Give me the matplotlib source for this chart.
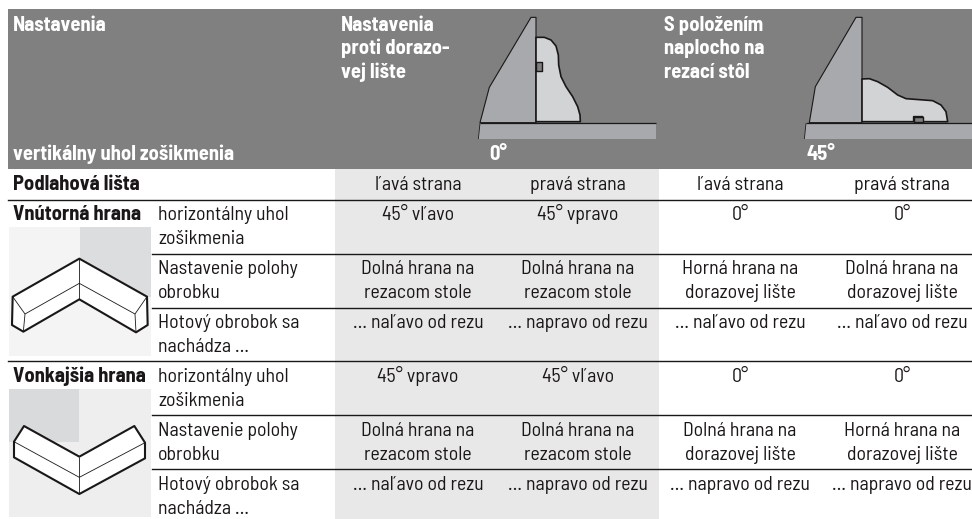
import matplotlib
matplotlib.use('Agg')
import matplotlib.pyplot as plt
from matplotlib import font_manager as fm
from matplotlib.patches import Polygon, Rectangle

# Semi condensed face if there is one, otherwise a smaller Roboto so the cells still fit
installed = {f.name for f in fm.fontManager.ttflist}
if 'Barlow Semi Condensed' in installed:
    plt.rcParams['font.family'] = ['Barlow Semi Condensed', 'DejaVu Sans']
    FS = 14.2
    FS_BOLD = 14.8
else:
    plt.rcParams['font.family'] = ['Roboto', 'DejaVu Sans']
    FS = 11.5
    FS_BOLD = 11.5

# Table content
head_left = ['Nastavenia', 'vertikálny uhol zošikmenia']
head_mid = ['Nastavenia', 'proti dorazo-', 'vej lište']
head_right = ['S položením', 'naplocho na', 'rezací stôl']
angles = ['0°', '45°']
sides = ['ľavá strana', 'pravá strana', 'ľavá strana', 'pravá strana']
row_labels = ['horizontálny uhol\nzošikmenia', 'Nastavenie polohy\nobrobku', 'Hotový obrobok sa\nnachádza …']

inner_name = 'Vnútorná hrana'
inner_rows = [
    ['45° vľavo', '45° vpravo', '0°', '0°'],
    ['Dolná hrana na\nrezacom stole', 'Dolná hrana na\nrezacom stole', 'Horná hrana na\ndorazovej lište', 'Dolná hrana na\ndorazovej lište'],
    ['… naľavo od rezu', '… napravo od rezu', '… naľavo od rezu', '… naľavo od rezu'],
]
outer_name = 'Vonkajšia hrana'
outer_rows = [
    ['45° vpravo', '45° vľavo', '0°', '0°'],
    ['Dolná hrana na\nrezacom stole', 'Dolná hrana na\nrezacom stole', 'Dolná hrana na\ndorazovej lište', 'Horná hrana na\ndorazovej lište'],
    ['… naľavo od rezu', '… napravo od rezu', '… napravo od rezu', '… napravo od rezu'],
]

col_x = [418, 578, 740, 902]
INK = '#1a1718'
HEAD = '#808080'
BAND = '#e8e8e8'
FENCE = '#a7a9ac'
PIECE = '#d1d3d4'

fig = plt.figure(figsize=(9.72, 5.19), dpi=100, facecolor='white')
ax = fig.add_axes([0, 0, 1, 1])
ax.set_xlim(0, 972)
ax.set_ylim(519, 0)
ax.axis('off')


def txt(x, y, s, bold=False, color=INK, ha='left'):
    ax.text(x, y, s, fontsize=FS_BOLD if bold else FS, fontweight='bold' if bold else 'normal', color=color,
            ha=ha, va='baseline', zorder=6)


def block(x, y, s, ha='left'):
    # two line cells, 24 px apart
    for i, part in enumerate(s.split('\n')):
        txt(x, y + i * 24, part, ha=ha)


def poly(pts, fc, ec=INK, lw=1.0, z=3):
    ax.add_patch(Polygon(pts, closed=True, fc=fc, ec=ec, lw=lw, zorder=z, joinstyle='round'))


def line(pts, lw=1.0, z=4):
    ax.plot([p[0] for p in pts], [p[1] for p in pts], color=INK, lw=lw, zorder=z, solid_capstyle='butt')


# sketch outlines were traced on 3x crops, these bring them back to image pixels
def zh(u, v):
    return (486 + u / 3, v / 3)


def zi(u, v):
    return (u / 3, 170 + v / 3)


def zo(u, v):
    return (u / 3, 340 + v / 3)


# backgrounds
ax.add_patch(Rectangle((8, 9), 964, 160, fc=HEAD, ec='none', zorder=1))
ax.add_patch(Rectangle((335, 169), 324, 350, fc=BAND, ec='none', zorder=1))

# header text
txt(13, 31, head_left[0], bold=True, color='white')
txt(13, 160, head_left[1], bold=True, color='white')
for i, s in enumerate(head_mid):
    txt(341, 31 + i * 23.5, s, bold=True, color='white')
for i, s in enumerate(head_right):
    txt(664, 31 + i * 23.5, s, bold=True, color='white')
txt(489, 160, angles[0], bold=True, color='white')
txt(806, 160, angles[1], bold=True, color='white')

# saw table, fence and workpiece, 0 degrees
poly([zh(-18, 370), zh(510, 370), zh(510, 417), zh(-23, 417)], FENCE, ec='none', z=2)
line([zh(-18, 370), zh(510, 370)], lw=0.9)
line([zh(-18, 370), zh(-23, 417)], lw=0.6)
poly([zh(135, 52), zh(150, 52), zh(150, 368), zh(-18, 368), zh(10, 262)], FENCE, lw=0.8)
poly([zh(150, 112), zh(175, 112), zh(195, 120), zh(210, 138), zh(217, 165), zh(218, 195), zh(225, 230),
      zh(240, 260), zh(260, 290), zh(275, 320), zh(282, 345), zh(283, 365), zh(150, 365)], PIECE, lw=1.2)
poly([zh(150, 187), zh(167, 187), zh(167, 212), zh(150, 212)], HEAD, lw=1.0, z=4)

# same again, 45 degrees
poly([zh(960, 370), zh(1458, 370), zh(1458, 417), zh(955, 417)], FENCE, ec='none', z=2)
line([zh(960, 370), zh(1458, 370)], lw=0.9)
line([zh(960, 370), zh(955, 417)], lw=0.6)
poly([zh(1110, 52), zh(1128, 52), zh(1128, 368), zh(970, 368), zh(988, 260)], FENCE, lw=0.8)
poly([zh(1128, 237), zh(1150, 236), zh(1175, 245), zh(1205, 262), zh(1235, 285), zh(1260, 296), zh(1300, 299),
      zh(1340, 302), zh(1365, 315), zh(1380, 335), zh(1385, 365), zh(1310, 365), zh(1310, 350), zh(1283, 350),
      zh(1283, 365), zh(1128, 365)], PIECE, lw=1.2)
poly([zh(1283, 350), zh(1310, 350), zh(1310, 367), zh(1283, 367)], HEAD, lw=1.0, z=4)

# rules
for y in [199.5, 360.5]:
    ax.plot([8, 972], [y, y], color=INK, lw=1.0, zorder=5)
for y in [253.5, 307.5, 414.5, 468.5]:
    ax.plot([152, 972], [y, y], color=INK, lw=1.0, zorder=5)

# table text
txt(13, 190.5, 'Podlahová lišta', bold=True)
for x, s in zip(col_x, sides):
    txt(x, 190.5, s, ha='center')

for name, rows, y0 in [(inner_name, inner_rows, 220), (outer_name, outer_rows, 382)]:
    txt(13, y0, name, bold=True)
    for r, base in enumerate([y0, y0 + 54, y0 + 108]):
        block(158, base, row_labels[r])
        for x, s in zip(col_x, rows[r]):
            block(x, base, s, ha='center')

# inner corner sketch
ax.add_patch(Rectangle((9, 227), 142, 129, fc='#f4f4f4', ec='none', zorder=1))
ax.add_patch(Rectangle((79.5, 227), 71.5, 70, fc='#dcddde', ec='none', zorder=1))
poly([zi(38, 380), zi(238, 266), zi(441, 380), zi(443, 465), zi(408, 487), zi(238, 388), zi(70, 485), zi(36, 465)],
     'white', lw=1.5)
line([zi(75, 432), zi(238, 340), zi(405, 432)], lw=0.6)
line([zi(238, 266), zi(238, 388)], lw=0.6)
line([zi(38, 380), zi(75, 432), zi(70, 485)], lw=0.6)
line([zi(441, 380), zi(405, 432), zi(408, 487)], lw=0.6)

# outer corner sketch
ax.add_patch(Rectangle((9, 389), 142, 128, fc='#eeeeee', ec='none', zorder=1))
ax.add_patch(Rectangle((9, 389), 69.5, 53, fc='#d9dadb', ec='none', zorder=1))
poly([zo(72, 258), zo(238, 350), zo(403, 258), zo(435, 308), zo(435, 355), zo(238, 462), zo(42, 352), zo(42, 305)],
     'white', lw=1.5)
line([zo(42, 305), zo(238, 412), zo(435, 308)], lw=0.6)
line([zo(238, 350), zo(238, 462)], lw=0.6)

fig.savefig('out.png', dpi=100)
